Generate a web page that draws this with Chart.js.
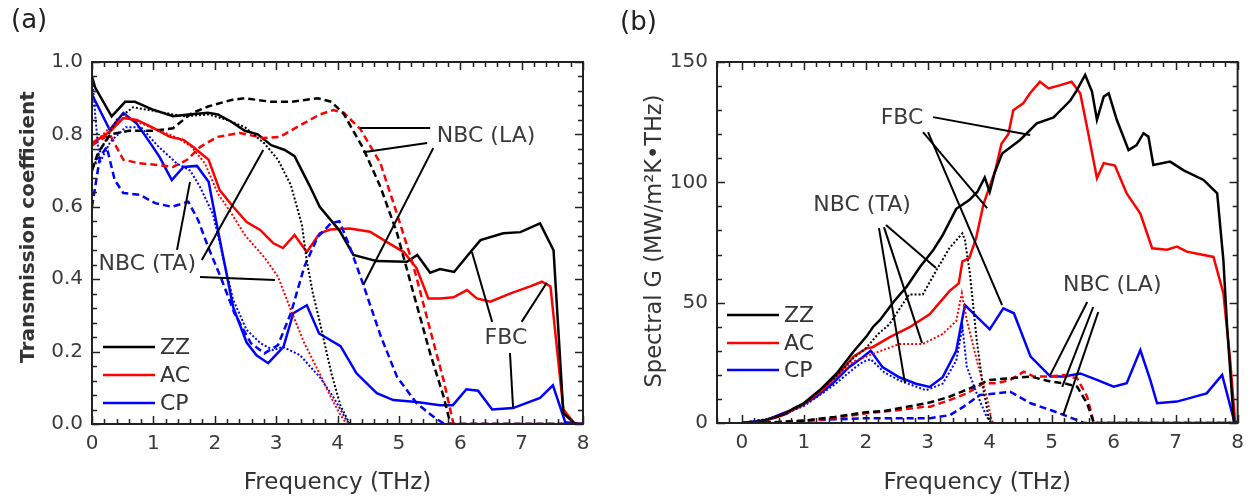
<!DOCTYPE html>
<html>
<head>
<meta charset="utf-8">
<script src="https://cdn.jsdelivr.net/npm/chart.js@4.4.0/dist/chart.umd.min.js"></script>
<style>
  body { margin: 0; background: #fff; width: 1252px; height: 502px; overflow: hidden; position: relative; }
  .panel { position: absolute; top: 0; height: 502px; }
  #wrapA { left: 0; width: 615px; }
  #wrapB { left: 615px; width: 637px; }
</style>
</head>
<body>
<div class="panel" id="wrapA"><canvas id="chartA"></canvas></div>
<div class="panel" id="wrapB"><canvas id="chartB"></canvas></div>
<script>
// (a) transmission coefficient, [THz, value]
const aZZ = [[0,0.96],[0.05,0.93],[0.32,0.85],[0.54,0.89],[0.7,0.89],[0.97,0.87],[1.32,0.85],[1.57,0.855],[1.89,0.86],[2.05,0.855],[2.27,0.835],[2.49,0.81],[2.7,0.8],[2.92,0.77],[3.14,0.757],[3.3,0.74],[3.54,0.66],[3.71,0.6],[4.03,0.535],[4.26,0.467],[4.64,0.45],[5.13,0.448],[5.3,0.467],[5.51,0.418],[5.67,0.428],[5.9,0.42],[6.18,0.478],[6.33,0.508],[6.7,0.527],[6.98,0.53],[7.3,0.554],[7.52,0.48],[7.68,0.03],[7.87,0],[8,0]];
const aZZnbcLA = [[0,0.7],[0.1,0.75],[0.3,0.8],[0.6,0.81],[1.0,0.81],[1.32,0.817],[1.62,0.858],[1.89,0.877],[2.27,0.895],[2.49,0.9],[2.92,0.89],[3.24,0.89],[3.68,0.9],[3.9,0.89],[4.1,0.857],[4.42,0.761],[4.7,0.655],[4.97,0.527],[5.24,0.36],[5.51,0.195],[5.73,0.075],[5.84,0],[8,0]];
const aZZnbcTA = [[0,0.7],[0.15,0.76],[0.4,0.84],[0.67,0.875],[1.0,0.865],[1.5,0.85],[1.9,0.855],[2.2,0.84],[2.49,0.82],[2.81,0.775],[3.03,0.73],[3.24,0.66],[3.42,0.55],[3.5,0.45],[3.6,0.36],[3.7,0.29],[3.9,0.14],[4.05,0.05],[4.2,0],[8,0]];
const aAC = [[0,0.776],[0.29,0.807],[0.51,0.845],[0.73,0.84],[1.0,0.818],[1.27,0.793],[1.49,0.785],[1.65,0.765],[1.9,0.73],[2.08,0.646],[2.3,0.6],[2.52,0.558],[2.74,0.536],[2.95,0.5],[3.11,0.486],[3.3,0.522],[3.5,0.475],[3.71,0.527],[3.88,0.537],[4.2,0.54],[4.53,0.531],[4.8,0.503],[5.08,0.475],[5.29,0.43],[5.48,0.347],[5.67,0.347],[5.89,0.35],[6.11,0.37],[6.27,0.347],[6.49,0.338],[6.82,0.361],[7.14,0.38],[7.33,0.393],[7.47,0.38],[7.68,0.04],[7.87,0],[8,0]];
const aACnbcLA = [[0,0.77],[0.29,0.8],[0.51,0.73],[0.78,0.72],[1.1,0.715],[1.32,0.71],[1.55,0.73],[1.76,0.765],[2.04,0.793],[2.41,0.804],[2.79,0.79],[3.06,0.793],[3.39,0.825],[3.71,0.855],[3.93,0.867],[4.1,0.86],[4.37,0.815],[4.7,0.72],[4.97,0.58],[5.24,0.435],[5.51,0.26],[5.73,0.12],[5.89,0],[8,0]];
const aACnbcTA = [[0,0.77],[0.3,0.82],[0.55,0.85],[0.8,0.83],[1.1,0.81],[1.4,0.79],[1.62,0.766],[1.84,0.72],[2.05,0.637],[2.27,0.582],[2.5,0.52],[2.81,0.46],[3.03,0.407],[3.24,0.315],[3.46,0.223],[3.68,0.149],[3.89,0.075],[4.03,0.03],[4.15,0],[8,0]];
const aCP = [[0,0.91],[0.29,0.812],[0.51,0.859],[0.73,0.83],[0.95,0.776],[1.1,0.738],[1.3,0.674],[1.49,0.71],[1.71,0.713],[1.9,0.669],[2.04,0.545],[2.3,0.323],[2.52,0.225],[2.68,0.19],[2.87,0.168],[3.12,0.213],[3.28,0.306],[3.5,0.328],[3.7,0.25],[4.05,0.215],[4.31,0.14],[4.64,0.085],[4.91,0.066],[5.29,0.061],[5.67,0.052],[5.88,0.052],[6.1,0.096],[6.29,0.092],[6.52,0.04],[6.86,0.044],[7.3,0.072],[7.51,0.107],[7.71,0.005],[8,0]];
const aCPnbcLA = [[0,0.6],[0.13,0.738],[0.24,0.765],[0.37,0.674],[0.51,0.638],[0.78,0.633],[1.03,0.61],[1.3,0.6],[1.57,0.614],[1.73,0.563],[1.89,0.49],[2.11,0.4],[2.32,0.306],[2.59,0.223],[2.81,0.195],[3.03,0.218],[3.24,0.306],[3.46,0.435],[3.68,0.517],[3.89,0.554],[4.03,0.56],[4.2,0.49],[4.42,0.385],[4.7,0.245],[4.97,0.13],[5.29,0.057],[5.6,0.015],[5.75,0],[8,0]];
const aCPnbcTA = [[0,0.97],[0.05,0.86],[0.12,0.72],[0.3,0.78],[0.55,0.82],[0.8,0.82],[1.06,0.77],[1.38,0.72],[1.6,0.7],[1.76,0.655],[1.97,0.58],[2.15,0.45],[2.3,0.343],[2.52,0.26],[2.74,0.224],[2.95,0.204],[3.11,0.213],[3.39,0.19],[3.6,0.15],[3.71,0.13],[3.93,0.075],[4.15,0.01],[4.2,0],[8,0]];

// (b) spectral G, [THz, MW/m2K.THz]
const bZZ = [[0,0],[0.29,0.5],[0.56,2.6],[0.72,4],[0.83,6],[0.99,8],[1.26,13.7],[1.53,20.6],[1.8,29.6],[2.01,35.9],[2.12,40],[2.23,42.8],[2.45,50.4],[2.66,56.6],[2.88,65],[3.09,71.9],[3.24,78],[3.46,89],[3.67,92.6],[3.8,96],[3.92,102],[4.0,96],[4.08,104],[4.2,112],[4.49,117.6],[4.76,124.5],[5.03,127],[5.3,134],[5.4,138],[5.54,144.6],[5.65,137.7],[5.73,126],[5.84,135.6],[5.92,137],[6.05,126],[6.24,113.4],[6.37,115.5],[6.48,120.4],[6.56,119],[6.64,107.2],[6.91,108.6],[7.13,105],[7.45,101],[7.67,95.4],[7.77,67.7],[7.83,40],[7.94,0],[8,0]];
const bZZnbcLA = [[0,0],[0.5,0.3],[1.0,1],[1.5,2.5],[2.0,4.5],[2.3,5],[2.65,6.7],[3.03,8.5],[3.36,11],[3.68,14.4],[4.0,17.9],[4.33,18.6],[4.66,19.3],[4.98,17.2],[5.2,16.5],[5.41,15.1],[5.57,8.2],[5.68,0],[8,0]];
const bZZnbcTA = [[0,0],[0.5,2],[1.0,7.6],[1.5,19],[1.8,27],[2.0,31],[2.2,37],[2.38,41],[2.7,53.4],[2.92,53.4],[3.13,63],[3.35,72.7],[3.56,78.8],[3.6,76],[3.68,62.2],[3.79,34.5],[3.9,13.7],[4.0,0],[8,0]];
const bAC = [[0,0],[0.29,0.4],[0.56,2.4],[0.72,3.8],[0.83,5.5],[0.99,7.6],[1.26,13],[1.53,19.5],[1.8,27.5],[2.01,31],[2.11,31.5],[2.38,35.6],[2.7,39.7],[3.03,45.2],[3.35,54.8],[3.5,58],[3.56,67.2],[3.67,68.5],[3.78,76.8],[3.9,91],[4.09,105],[4.19,116],[4.3,120],[4.38,130],[4.54,132.8],[4.65,137],[4.81,141.8],[4.95,139],[5.14,140.4],[5.32,141.8],[5.46,137],[5.57,123],[5.73,101.7],[5.84,108],[6.02,107],[6.21,95.4],[6.43,87],[6.62,72.6],[6.86,72],[7.02,73.3],[7.18,71.2],[7.61,69],[7.77,53.9],[7.88,26],[7.96,0],[8,0]];
const bACnbcLA = [[0,0],[0.5,0.2],[1.0,0.8],[1.5,2],[2.0,4],[2.54,5.4],[2.92,6.7],[3.04,6.8],[3.36,9.6],[3.63,12.3],[3.9,16.5],[4.11,16.5],[4.33,17.9],[4.55,21.3],[4.71,19.3],[4.93,19.3],[5.2,19.9],[5.41,18.6],[5.57,11],[5.68,0],[8,0]];
const bACnbcTA = [[0,0],[0.5,2],[1.0,7.4],[1.5,18.5],[1.8,25.5],[2.0,27.5],[2.11,28.7],[2.54,32.8],[2.92,32.8],[3.24,37],[3.46,42.4],[3.55,53.9],[3.63,42.8],[3.79,26.2],[3.95,10.9],[4.03,1.2],[4.06,0],[8,0]];
const bCP = [[0,0],[0.39,1.2],[0.66,4],[0.93,6.7],[1.2,10.9],[1.46,16.3],[1.73,23.2],[1.95,27.3],[2.08,30],[2.27,23.2],[2.54,19],[2.81,16.3],[3.03,15],[3.24,19],[3.46,30],[3.6,49],[3.79,44.2],[4.0,38.9],[4.22,47.6],[4.39,45.6],[4.66,27.6],[4.98,19.3],[5.2,19.3],[5.46,20.6],[5.73,17.9],[6.0,15.1],[6.21,16.5],[6.43,30.3],[6.59,17.9],[6.7,8.2],[7.02,8.9],[7.5,12.3],[7.75,20],[7.94,1.2],[8,0]];
const bCPnbcLA = [[0,0],[0.6,0.3],[1.2,1.2],[2.0,2],[2.81,2],[3.04,2],[3.36,3.3],[3.58,6.8],[3.84,11.6],[4.11,12.3],[4.33,13],[4.66,8.2],[4.98,5.4],[5.2,3.3],[5.41,1.2],[5.52,0],[8,0]];
const bCPnbcTA = [[0,0],[0.5,1.8],[1.0,7],[1.5,16],[1.8,22.5],[1.95,25.3],[2.08,26.5],[2.3,21],[2.54,17.7],[2.97,13.6],[3.24,16.3],[3.46,25.9],[3.56,39.7],[3.63,23.4],[3.79,12.3],[3.95,2.6],[4.03,0],[8,0]];

const seriesNames = ['ZZ', 'AC', 'CP'];
const seriesColors = ['#000000', '#ff0000', '#0000ff'];
const aYTicks = ['0.0', '0.2', '0.4', '0.6', '0.8', '1.0'];
const bYTicks = ['0', '50', '100', '150'];

// leader lines [x1, y1, x2, y2] and labels [text, x, y], in data units
const aLeaders = [
  [4.37,0.818,5.51,0.818],[4.42,0.751,5.46,0.776],[5.56,0.762,4.42,0.384],
  [1.385,0.481,1.597,0.669],[1.79,0.453,2.79,0.757],[1.76,0.406,2.98,0.398],
  [6.52,0.282,6.19,0.475],[7.0,0.282,7.41,0.39],[6.81,0.196,6.86,0.047]
];
const aNotes = [['NBC (LA)',6.42,0.796],['NBC (TA)',0.9,0.44],['FBC',6.745,0.236]];
const bLeaders = [
  [3.086,127.1,4.653,119.7],[2.924,120.9,3.958,89.3],[3.005,120.9,4.2,49],
  [2.213,81,2.633,16.6],[2.294,81.4,2.908,33.2],[2.326,82.3,3.134,64.4],
  [5.573,50.3,4.976,19.9],[5.67,48.2,5.17,15.0],[5.751,46.1,5.186,3.3]
];
const bNotes = [['FBC',2.585,126.7],['NBC (TA)',1.94,90.6],['NBC (LA)',5.977,57.3]];

const FONT = "'DejaVu Sans', sans-serif";
const TXT = '#333333';

function line(points, color, style) {
  return {
    data: points.map(p => ({x: p[0], y: p[1]})),
    borderColor: color,
    borderWidth: style === 'dot' ? 2 : 2.5,
    borderDash: style === 'dash' ? [7, 4] : (style === 'dot' ? [2, 2] : []),
    pointRadius: 0,
    showLine: true,
    tension: 0,
    fill: false
  };
}

const framePlugin = {
  id: 'frame',
  afterDatasetsDraw(chart, args, o) {
    const {ctx, chartArea: a, scales: {x, y}} = chart;
    ctx.save();
    ctx.strokeStyle = '#222';
    ctx.lineWidth = 1.5;
    // ticks on all four sides, minor and major
    const nx = Math.round((o.xMax - o.xMin) / o.xMinor);
    for (let i = 0; i <= nx; i++) {
      const v = o.xMin + i * o.xMinor;
      const len = Math.abs(v - Math.round(v)) < 1e-6 ? 8 : 5;
      const px = Math.round(x.getPixelForValue(v)) + 0.5;
      ctx.beginPath();
      ctx.moveTo(px, a.bottom); ctx.lineTo(px, a.bottom - len);
      ctx.moveTo(px, a.top); ctx.lineTo(px, a.top + len);
      ctx.stroke();
    }
    const ny = Math.round((o.yMax - o.yMin) / o.yMinor);
    for (let i = 0; i <= ny; i++) {
      const v = o.yMin + i * o.yMinor;
      const r = v / o.yMajor;
      const len = Math.abs(r - Math.round(r)) < 1e-6 ? 8 : 5;
      const py = Math.round(y.getPixelForValue(v)) + 0.5;
      ctx.beginPath();
      ctx.moveTo(a.left, py); ctx.lineTo(a.left + len, py);
      ctx.moveTo(a.right, py); ctx.lineTo(a.right - len, py);
      ctx.stroke();
    }
    ctx.lineWidth = 2;
    ctx.strokeRect(a.left, a.top, a.right - a.left, a.bottom - a.top);

    // leader lines
    ctx.strokeStyle = '#000';
    ctx.lineWidth = 2;
    o.leaders.forEach(l => {
      ctx.beginPath();
      ctx.moveTo(x.getPixelForValue(l[0]), y.getPixelForValue(l[1]));
      ctx.lineTo(x.getPixelForValue(l[2]), y.getPixelForValue(l[3]));
      ctx.stroke();
    });

    ctx.fillStyle = '#3a3a3a';
    ctx.font = '22px ' + FONT;
    ctx.textAlign = 'center';
    ctx.textBaseline = 'middle';
    o.notes.forEach(n => ctx.fillText(n[0], x.getPixelForValue(n[1]), y.getPixelForValue(n[2])));

    // legend
    ctx.textAlign = 'left';
    seriesNames.forEach((name, i) => {
      const ly = a.bottom + o.keyY[i];
      ctx.strokeStyle = seriesColors[i];
      ctx.lineWidth = 2.5;
      ctx.beginPath();
      ctx.moveTo(a.left + o.keyX, ly);
      ctx.lineTo(a.left + o.keyX + 52, ly);
      ctx.stroke();
      ctx.fillStyle = TXT;
      ctx.fillText(name, a.left + o.keyX + 57, ly + 1);
    });

    // y title and panel label
    ctx.save();
    ctx.translate(o.yTitle[1], o.yTitle[2]);
    ctx.rotate(-Math.PI / 2);
    ctx.textAlign = 'center';
    ctx.font = o.yTitle[3] + ' ' + o.yTitle[4] + 'px ' + FONT;
    ctx.fillStyle = TXT;
    ctx.fillText(o.yTitle[0], 0, 0);
    ctx.restore();

    ctx.font = '26px ' + FONT;
    ctx.fillStyle = '#222';
    ctx.textBaseline = 'top';
    ctx.fillText(o.tag[0], o.tag[1], o.tag[2]);
    ctx.restore();
  }
};

function makeChart(id, datasets, cfg) {
  return new Chart(document.getElementById(id), {
    type: 'scatter',
    data: {datasets: datasets},
    options: {
      responsive: true,
      maintainAspectRatio: false,
      animation: false,
      layout: {padding: {top: 62, right: cfg.padRight, left: 0, bottom: 0}},
      plugins: {
        legend: {display: false},
        tooltip: {enabled: false},
        frame: cfg.frame
      },
      scales: {
        x: {
          type: 'linear', min: cfg.frame.xMin, max: 8,
          grid: {display: false, drawTicks: false},
          border: {display: false},
          ticks: {
            stepSize: 1, includeBounds: false, maxRotation: 0, autoSkip: false,
            padding: 8, color: '#3a3a3a', font: {family: FONT, size: 20},
            callback: v => Number.isInteger(v) ? String(v) : ''
          },
          title: {display: true, text: 'Frequency (THz)', color: TXT,
            font: {family: FONT, size: 23}, padding: {top: 0, bottom: 5}},
          afterFit: s => { s.height = cfg.xHeight; }
        },
        y: {
          type: 'linear', min: 0, max: cfg.frame.yMax,
          grid: {display: false, drawTicks: false},
          border: {display: false},
          ticks: {
            stepSize: cfg.frame.yMajor, padding: 9, color: '#3a3a3a',
            font: {family: FONT, size: 20},
            callback: (v, i) => cfg.yLabels[i]
          },
          afterFit: s => { s.width = cfg.yWidth; }
        }
      }
    },
    plugins: [framePlugin]
  });
}

const K = seriesColors;
makeChart('chartA', [
  line(aZZnbcTA, K[0], 'dot'), line(aACnbcTA, K[1], 'dot'), line(aCPnbcTA, K[2], 'dot'),
  line(aZZnbcLA, K[0], 'dash'), line(aACnbcLA, K[1], 'dash'), line(aCPnbcLA, K[2], 'dash'),
  line(aZZ, K[0]), line(aAC, K[1]), line(aCP, K[2])
], {
  padRight: 32, xHeight: 78, yWidth: 92, yLabels: aYTicks,
  frame: {
    xMin: 0, xMax: 8, xMinor: 0.2, yMin: 0, yMax: 1, yMinor: 0.04, yMajor: 0.2,
    leaders: aLeaders, notes: aNotes, keyX: 11, keyY: [-77, -49, -21],
    yTitle: ['Transmission coefficient', 29, 227, 'bold', 20], tag: ['(a)', 11, 8]
  }
});

makeChart('chartB', [
  line(bZZnbcTA, K[0], 'dot'), line(bACnbcTA, K[1], 'dot'), line(bCPnbcTA, K[2], 'dot'),
  line(bZZnbcLA, K[0], 'dash'), line(bACnbcLA, K[1], 'dash'), line(bCPnbcLA, K[2], 'dash'),
  line(bZZ, K[0]), line(bAC, K[1]), line(bCP, K[2])
], {
  padRight: 13, xHeight: 79, yWidth: 102, yLabels: bYTicks,
  frame: {
    xMin: -0.4, xMax: 8, xMinor: 0.2, yMin: 0, yMax: 150, yMinor: 10, yMajor: 50,
    leaders: bLeaders, notes: bNotes, keyX: 10, keyY: [-108, -80, -53],
    yTitle: ['Spectral G (MW/m²K•THz)', 40, 241, 'normal', 22.5], tag: ['(b)', 5, 10]
  }
});
</script>
